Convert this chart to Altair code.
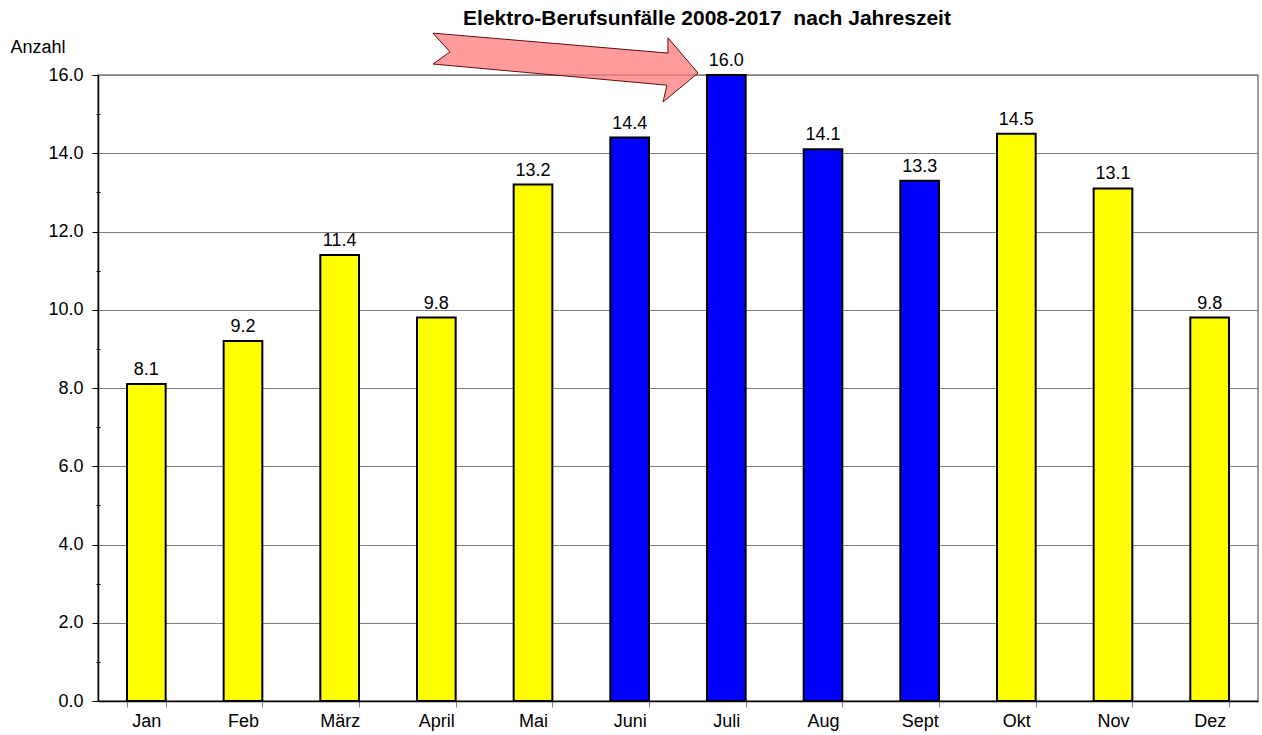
import altair as alt
import pandas as pd

months = ["Jan", "Feb", "März", "April", "Mai", "Juni", "Juli", "Aug", "Sept", "Okt", "Nov", "Dez"]
values = [8.1, 9.2, 11.4, 9.8, 13.2, 14.4, 16.0, 14.1, 13.3, 14.5, 13.1, 9.8]
season = ["other", "other", "other", "other", "other", "summer", "summer", "summer", "summer", "other", "other", "other"]

# arrow outline in (month-index, value) units
arrow_x = [3.465, 5.896, 5.896, 6.207, 5.845, 5.886, 3.465, 3.641, 3.465]
arrow_y = [17.07, 16.56, 16.95, 16.05, 15.31, 15.74, 16.28, 16.59, 17.07]

major_ticks = [0, 2, 4, 6, 8, 10, 12, 14, 16]
minor_ticks = [1, 3, 5, 7, 9, 11, 13, 15]

df = pd.DataFrame({"Monat": months, "Anzahl": values, "Saison": season})
arrow_df = pd.DataFrame({"x": arrow_x, "y": arrow_y, "o": list(range(len(arrow_x)))})

FONT = "Liberation Sans"
FS = 18

xscale = alt.Scale(paddingInner=0.6, paddingOuter=0.3)
xenc = alt.X("Monat:N", sort=months, scale=xscale,
             axis=alt.Axis(title=None, labelAngle=0, tickBand="extent", tickSize=6,
                           labelPadding=5, labelFontSize=FS, labelFont=FONT, labelColor="black",
                           domainColor="black", domainWidth=1.5, tickColor="#808080",
                           grid=False))
yscale = alt.Scale(domain=[0, 16], nice=False)

bars = alt.Chart(df).mark_bar(stroke="black", strokeWidth=2).encode(
    x=xenc,
    y=alt.Y("Anzahl:Q", scale=yscale,
            axis=alt.Axis(values=major_ticks, format=".1f", tickSize=6, labelPadding=9,
                          labelFontSize=FS, labelFont=FONT, labelColor="black",
                          domainColor="black", domainWidth=1.5, tickColor="black",
                          grid=True, gridColor="#808080", gridWidth=1,
                          title="Anzahl", titleAngle=0, titleAlign="left", titleBaseline="middle",
                          titleX=-88, titleY=-28, titleFont=FONT, titleFontSize=FS,
                          titleFontWeight="normal", titleColor="black")),
    color=alt.Color("Saison:N", scale=alt.Scale(domain=["other", "summer"], range=["#FFFF00", "#0000FF"]),
                    legend=None),
)

labels = alt.Chart(df).mark_text(baseline="bottom", dy=-5, fontSize=FS, font=FONT, color="black").encode(
    x=alt.X("Monat:N", sort=months, scale=xscale, axis=None),
    y=alt.Y("Anzahl:Q", scale=yscale,
            axis=alt.Axis(values=minor_ticks, labels=False, tickSize=4, domain=False, grid=False,
                          title=None, orient="left", tickColor="black", offset=-2)),
    text=alt.Text("Anzahl:Q", format=".1f"),
)

arrow = alt.Chart(arrow_df).mark_line(fill="#FF7A7A", fillOpacity=0.75, stroke="#5a1010",
                                      strokeWidth=1, strokeJoin="miter", clip=False).encode(
    x=alt.X("x:Q", scale=alt.Scale(domain=[0, 12], nice=False, zero=False), axis=None),
    y=alt.Y("y:Q", scale=yscale, axis=None),
    order="o:Q",
)

chart = alt.layer(bars, labels, arrow).resolve_scale(x="independent").resolve_axis(y="independent").properties(
    width=1160, height=626,
    title=alt.TitleParams("Elektro-Berufsunfälle 2008-2017\u00a0\u00a0nach Jahreszeit", font=FONT, fontSize=21,
                          fontWeight="bold", color="black", anchor="middle", dx=29, offset=2),
    padding={"left": 98, "top": 75, "right": 4, "bottom": 34},
    autosize=alt.AutoSizeParams(type="none"),
).configure_view(stroke="#808080", strokeWidth=1.5)

chart.save("out.html", embed_options={"renderer": "svg", "actions": False})
